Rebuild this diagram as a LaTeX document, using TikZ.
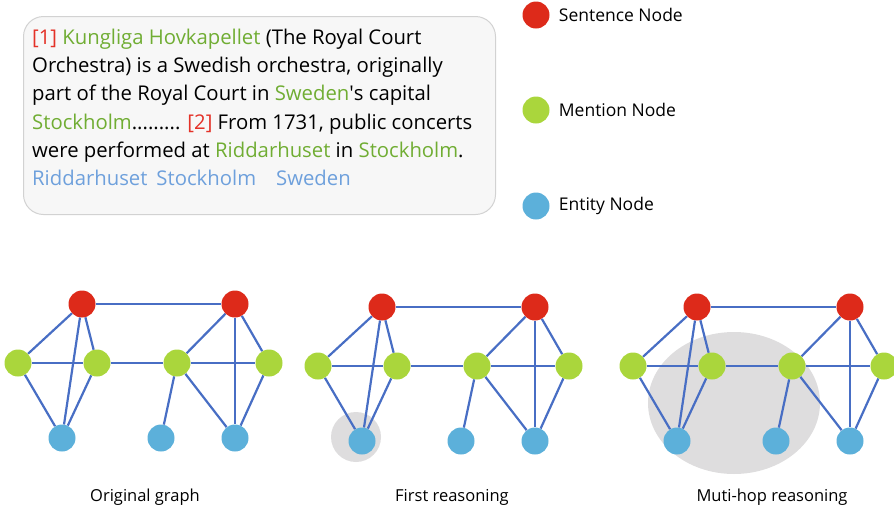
\documentclass[tikz,border=0pt]{standalone}
\usepackage{fontspec}
\setmainfont{Open Sans}
\newfontfamily\plainsans{Open Sans}
\usetikzlibrary{positioning}

\definecolor{sentred}{RGB}{221,42,26}
\definecolor{mentgreen}{RGB}{170,214,60}
\definecolor{entblue}{RGB}{92,176,218}
\definecolor{edgeblue}{RGB}{72,110,196}
\definecolor{txtgreen}{RGB}{112,173,51}
\definecolor{txtred}{RGB}{228,50,40}
\definecolor{txtblue}{RGB}{110,160,220}
\definecolor{hilite}{RGB}{222,221,222}
\definecolor{boxfill}{RGB}{247,247,247}
\definecolor{boxline}{RGB}{210,210,210}

\tikzset{
  gnode/.style={circle,minimum size=27pt,inner sep=0pt},
  sent/.style={gnode,fill=sentred},
  ment/.style={gnode,fill=mentgreen},
  ent/.style={gnode,fill=entblue},
  link/.style={edgeblue,line width=2.2pt},
  legtext/.style={font=\fontsize{17.5}{20}\selectfont,inner sep=0pt},
  captext/.style={font=\fontsize{16.5}{20}\selectfont},
}

\begin{document}
\begin{tikzpicture}[x=1pt,y=-1pt]
\useasboundingbox (0,0) rectangle (894,512);

% example sentences
\node[draw=boxline,fill=boxfill,line width=1pt,rounded corners=20pt,
  minimum width=472pt,minimum height=198pt,anchor=north west] (box) at (23,16) {};
\node[anchor=north west,align=left,inner sep=0pt,
  font=\fontsize{20.3}{28.3}\selectfont] (sents) at (32,28.5) {%
  \textcolor{txtred}{[1]} \textcolor{txtgreen}{Kungliga Hovkapellet} (The Royal Court\\
  Orchestra) is a Swedish orchestra, originally\\
  part of the Royal Court in \textcolor{txtgreen}{Sweden}{\plainsans'}s capital\\
  \textcolor{txtgreen}{Stockholm}......... \textcolor{txtred}{[2]} From 1731, public concerts\\
  were performed at \textcolor{txtgreen}{Riddarhuset} in \textcolor{txtgreen}{Stockholm}.\\
  \textcolor{txtblue}{Riddarhuset\hspace{9pt}Stockholm\hspace{20pt}Sweden}};

% legend
\node[sent] (lsent) at (536,15) {};
\node[ment] (lment) at (536,110) {};
\node[ent] (lent) at (536,206) {};
\node[legtext,right=9pt of lsent] (tsent) {Sentence Node};
\node[legtext,right=9pt of lment] (tment) {Mention Node};
\node[legtext,right=9pt of lent] (tent) {Entity Node};

% reasoning areas
\fill[hilite] (356,437) circle (25pt);
\fill[hilite] (734,403) ellipse (86pt and 71pt);

% the three graphs
\foreach \g/\dx/\dy in {a/0/0,b/300/3,c/615/3} {
  \begin{scope}[shift={(\dx,\dy)}]
    \node[sent] (\g r1) at (82,304) {};
    \node[sent] (\g r2) at (235,304) {};
    \node[ment] (\g m1) at (18,363) {};
    \node[ment] (\g m2) at (97,363) {};
    \node[ment] (\g m3) at (177,363) {};
    \node[ment] (\g m4) at (269,363) {};
    \node[ent] (\g e1) at (62,438) {};
    \node[ent] (\g e2) at (161,438) {};
    \node[ent] (\g e3) at (235,438) {};
  \end{scope}
  \foreach \u/\v in {r1/r2,r1/m1,r1/m2,r1/e1,m1/m2,m2/m3,m3/m4,m1/e1,m2/e1,
                     m3/e2,m3/e3,r2/m3,r2/e3,r2/m4,m4/e3}
    \draw[link] (\g\u) -- (\g\v);
}

% captions
\node[captext] (capa) at (145,497) {Original graph};
\node[captext] (capb) at (452,497) {First reasoning};
\node[captext] (capc) at (772,497) {Muti-hop reasoning};
\end{tikzpicture}
\end{document}
